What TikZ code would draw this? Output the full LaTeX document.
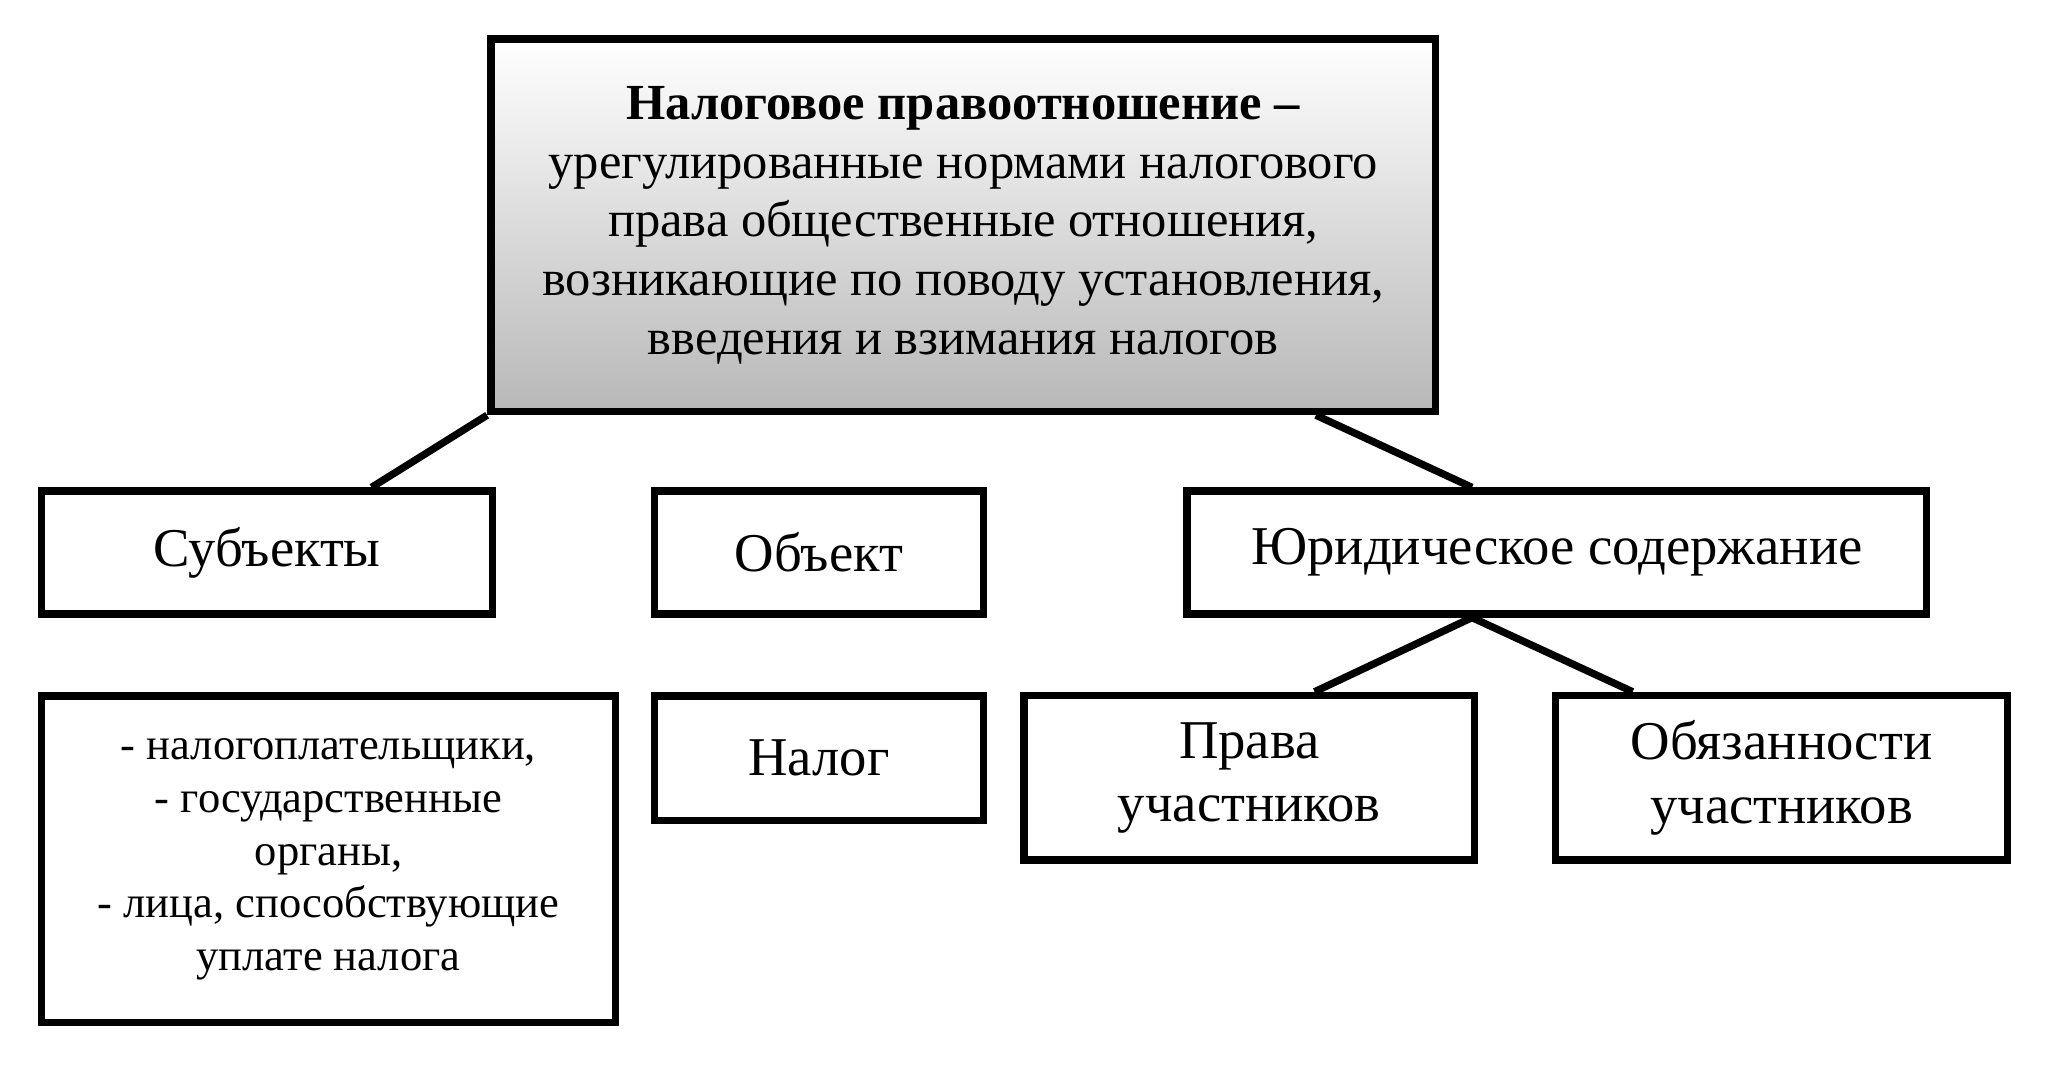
\documentclass[tikz,border=0pt]{standalone}
\usepackage{fontspec}
\setmainfont{Liberation Serif}
\usetikzlibrary{positioning, calc}

\begin{document}
\begin{tikzpicture}[x=0.01cm, y=0.01cm,
    box/.style={draw=black, line width=1.6pt, fill=white, align=center, inner sep=0pt, font=\fontsize{11.9}{13.8}\selectfont},
    link/.style={line width=1.6pt}]
    % canvas
    \useasboundingbox (0,0) rectangle (1568,818);

    % Main definition box
    \node[box, top color=white, bottom color=black!28, minimum width=7.23cm, minimum height=2.85cm,
          font=\fontsize{11}{12.8}\selectfont] (main) at (737.5,645.5)
        {\textbf{Налоговое правоотношение –}\\урегулированные нормами налогового\\права общественные отношения,\\возникающие по поводу установления,\\введения и взимания налогов};

    % Second level
    \node[box, minimum width=3.45cm, minimum height=0.94cm] (subj) at (204.5,395) {Субъекты};
    \node[box, minimum width=2.52cm, minimum height=0.94cm] (obj) at (627,395) {Объект};
    \node[box, minimum width=5.66cm, minimum height=0.94cm] (content) at (1192,395) {Юридическое содержание};

    % Third level
    \node[box, minimum width=4.39cm, minimum height=2.50cm, font=\fontsize{9.7}{11.5}\selectfont] (list) at (251.5,160)
        {- налогоплательщики,\\- государственные\\органы,\\- лица, способствующие\\уплате налога};
    \node[box, minimum width=2.52cm, minimum height=0.95cm] (tax) at (627,237.5) {Налог};
    \node[box, minimum width=3.45cm, minimum height=1.26cm] (rights) at (956.5,222.5) {Права\\участников};
    \node[box, minimum width=3.46cm, minimum height=1.26cm] (duties) at (1364,222.5) {Обязанности\\участников};

    % Connectors
    \draw[link] (main.south west) -- ($(subj.north)+(80,0)$);
    \draw[link] ($(obj.north)+(-31,0)$ |- main.south) -- ($(obj.north)+(-31,0)$);
    \draw[link] ($(main.south)+(270,0)$) -- ($(content.north)+(-65,0)$);
    \draw[link] ($(subj.south)+(-16.5,0)$) -- ($(subj.south)+(-16.5,0)$ |- list.north);
    \draw[link] ($(obj.south)+(-31,0)$) -- ($(obj.south)+(-31,0)$ |- tax.north);
    \draw[link] ($(content.south)+(-65,0)$) -- ($(rights.north)+(50,0)$);
    \draw[link] ($(content.south)+(-65,0)$) -- ($(duties.north)+(-114,0)$);
\end{tikzpicture}
\end{document}
